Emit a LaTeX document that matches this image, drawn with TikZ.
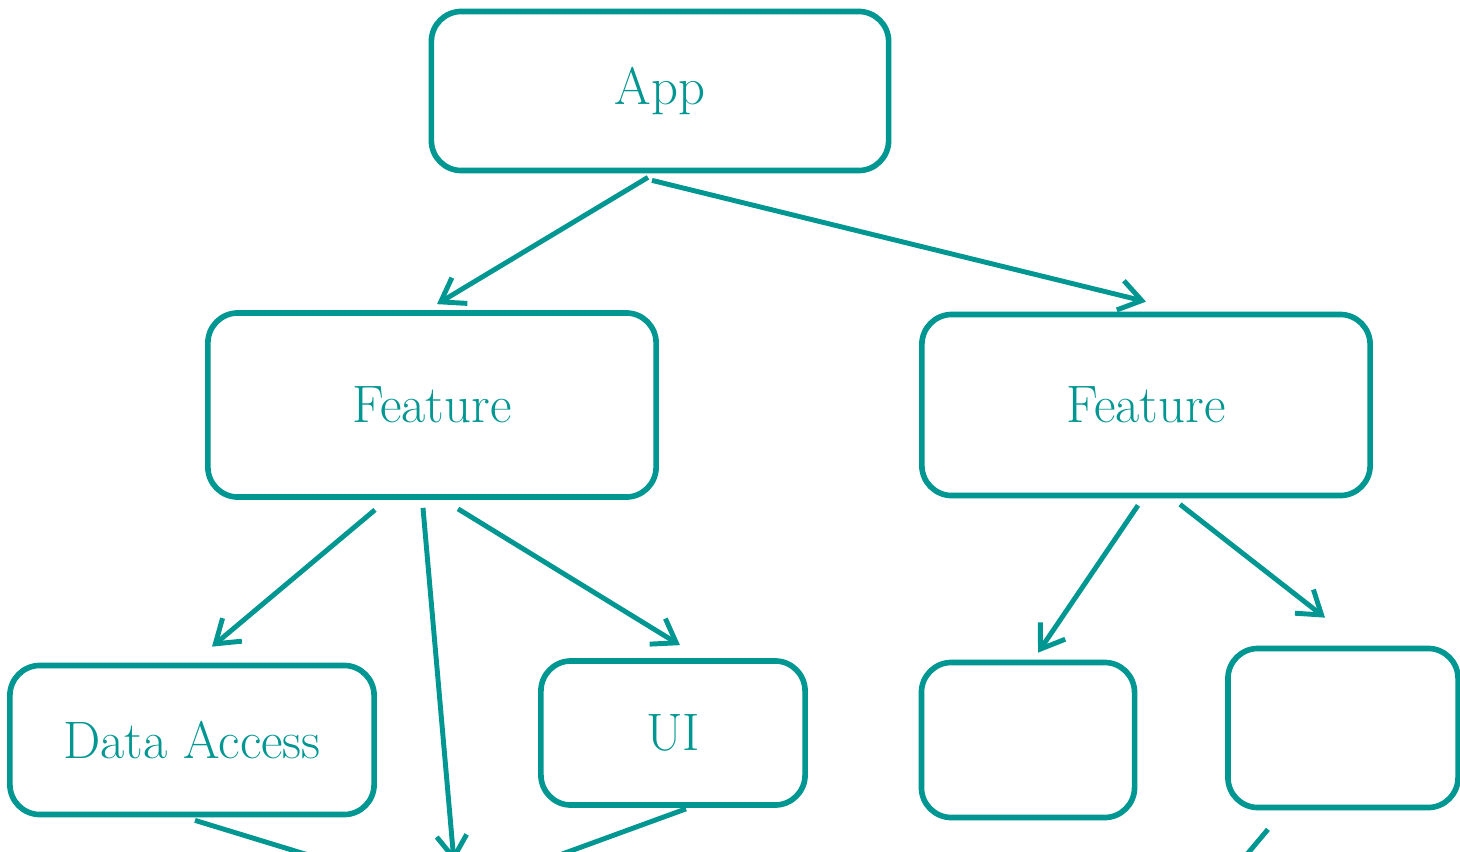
\documentclass[tikz,border=0pt]{standalone}
\usetikzlibrary{arrows.meta}
\definecolor{sketchteal}{RGB}{0,150,145}
\tikzset{
  block/.style={draw=sketchteal, line width=1.6pt, rounded corners=0.3cm,
    inner sep=0pt, text=sketchteal, font=\fontsize{15}{18}\selectfont},
  link/.style={draw=sketchteal, line width=1.4pt,
    -{Straight Barb[length=0.22cm,width=0.3cm]}}
}
\begin{document}
\begin{tikzpicture}[x=0.01cm,y=-0.01cm]
  \useasboundingbox (0,0) rectangle (1460,851);
  \clip (0,0) rectangle (1460,851);
  \fill[white] (0,0) rectangle (1460,851);

  % Define nodes
  \node[block, minimum width=4.57cm, minimum height=1.59cm] (app)   at (660,91)  {App};
  \node[block, minimum width=4.48cm, minimum height=1.84cm] (featL) at (432,405) {Feature};
  \node[block, minimum width=4.48cm, minimum height=1.81cm] (featR) at (1146,405) {Feature};
  \node[block, minimum width=3.64cm, minimum height=1.49cm] (data)  at (192,740) {Data Access};
  \node[block, minimum width=2.64cm, minimum height=1.44cm] (ui)    at (673,733) {UI};
  \node[block, minimum width=2.13cm, minimum height=1.55cm] (boxA)  at (1028,740) {};
  \node[block, minimum width=2.30cm, minimum height=1.59cm] (boxB)  at (1343,728) {};

  % Off-page ends
  \coordinate (downL)    at (454,862);
  \coordinate (downData) at (390,880);
  \coordinate (downUI)   at (480,884);
  \coordinate (downB)    at (1222,884);

  % Connect the nodes
  \draw[link] ([xshift=-0.12cm,yshift=-0.04cm]app.south) -- ([xshift=0.05cm,yshift=0.06cm]featL.north);
  \draw[link] ([xshift=-0.08cm,yshift=-0.07cm]app.south) -- ([yshift=0.1cm]featR.north);
  \draw[link] ([xshift=-0.57cm,yshift=-0.1cm]featL.south) -- ([xshift=0.2cm,yshift=0.16cm]data.north);
  \draw[link] ([xshift=-0.09cm,yshift=-0.08cm]featL.south) -- (downL);
  \draw[link] ([xshift=0.26cm,yshift=-0.09cm]featL.south) -- ([xshift=0.07cm,yshift=0.13cm]ui.north);
  \draw[link] ([xshift=-0.08cm,yshift=-0.07cm]featR.south) -- ([xshift=0.1cm,yshift=0.07cm]boxA.north);
  \draw[link] ([xshift=0.34cm,yshift=-0.06cm]featR.south) -- ([xshift=-0.18cm,yshift=0.28cm]boxB.north);
  \draw[link] ([xshift=0.03cm,yshift=-0.03cm]data.south) -- (downData);
  \draw[link] ([xshift=0.13cm,yshift=-0.01cm]ui.south) -- (downUI);
  \draw[link] ([xshift=-0.75cm,yshift=-0.19cm]boxB.south) -- (downB);
\end{tikzpicture}
\end{document}
